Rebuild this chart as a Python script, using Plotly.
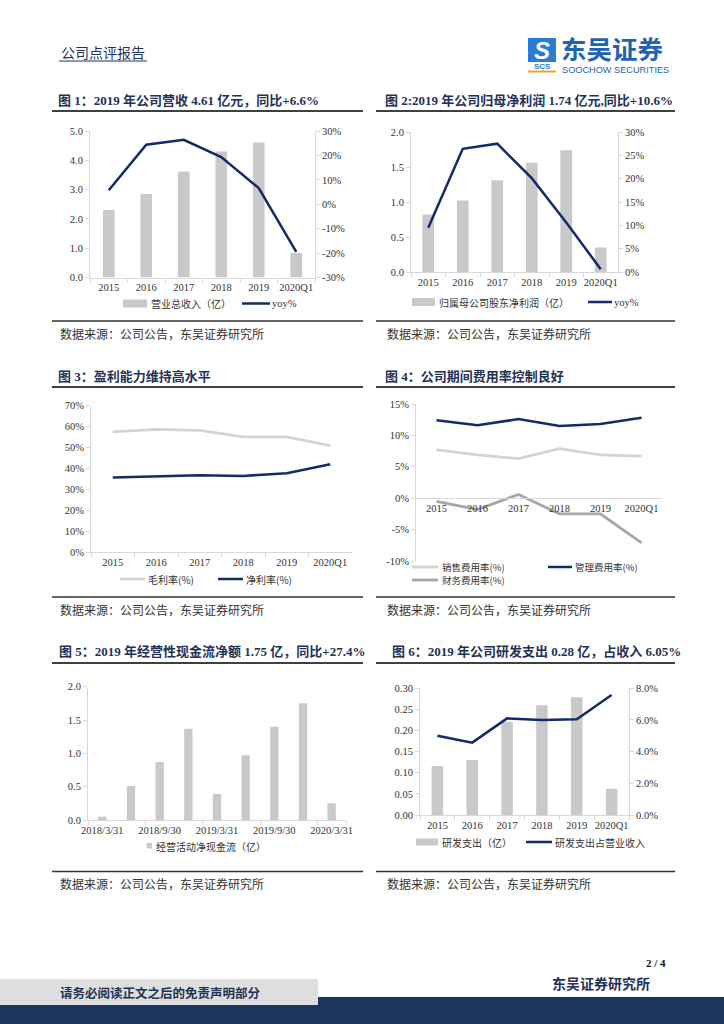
import plotly.graph_objects as go

W, H = 724, 1024

# ---------------- data ----------------
years = ["2015", "2016", "2017", "2018", "2019", "2020Q1"]
revenue = [2.30, 2.85, 3.62, 4.30, 4.61, 0.84]            # 营业总收入(亿)
revenue_yoy = [5.7, 24.4, 26.4, 19.3, 6.6, -19.5]         # %
net_profit = [0.82, 1.02, 1.31, 1.56, 1.74, 0.35]         # 归母净利润(亿)
net_profit_yoy = [9.5, 26.4, 27.5, 20.1, 10.6, 0.6]       # %
gross_margin = [57.5, 58.7, 58.2, 55.1, 55.1, 50.9]       # 毛利率 %
net_margin = [35.6, 36.2, 36.7, 36.4, 37.7, 42.0]         # 净利率 %
sales_rate = [7.7, 6.9, 6.3, 7.9, 6.9, 6.7]               # 销售费用率 %
admin_rate = [12.4, 11.6, 12.6, 11.5, 11.8, 12.8]         # 管理费用率 %
finance_rate = [-0.5, -1.8, 0.6, -2.5, -2.5, -7.1]        # 财务费用率 %
cf_dates = ["2018/3/31", "2018/6/30", "2018/9/30", "2018/12/31", "2019/3/31",
            "2019/6/30", "2019/9/30", "2019/12/31", "2020/3/31"]
op_cashflow = [0.05, 0.51, 0.87, 1.37, 0.39, 0.97, 1.40, 1.75, 0.25]
rd_spend = [0.116, 0.130, 0.221, 0.260, 0.279, 0.062]     # 研发支出(亿)
rd_ratio = [5.01, 4.57, 6.10, 6.00, 6.05, 7.58]           # 研发支出占营业收入 %

yoy1_ticks = [-30, -20, -10, 0, 10, 20, 30]
yoy1_text = ["-30%", "-20%", "-10%", "0%", "10%", "20%", "30%"]
exp_ticks = [-10, -5, 0, 5, 10, 15]
exp_text = ["-10%", "-5%", "0%", "5%", "10%", "15%"]

# ---------------- style ----------------
NAVY = "#15296b"
BAR = "#c9c9c9"
LIGHT = "#d3d3d3"
MID = "#a6a6a6"
AXC = "#d9d9d9"
TITLE_C = "#1f3257"
SERIF = "Liberation Serif, 'Times New Roman', 'Noto Sans CJK SC', serif"
CJK = "'Noto Sans CJK SC', sans-serif"
TF = dict(family=SERIF, size=10.5, color="#333333")


def fx(x):
    return x / W


def fy(y):
    return 1 - y / H


def xax(x0, x1, anchor, n, **kw):
    d = dict(domain=[fx(x0), fx(x1)], anchor=anchor, type="category",
             range=[-0.5, n - 0.5], showline=True, linecolor=AXC, linewidth=1,
             ticks="outside", tickson="boundaries", ticklen=4, tickcolor=AXC,
             tickfont=TF, tickangle=0, showgrid=False, zeroline=False, fixedrange=True)
    d.update(kw)
    return d


def yax(top, bot, anchor, rng, dtick, **kw):
    d = dict(domain=[fy(bot), fy(top)], anchor=anchor, range=rng, dtick=dtick,
             tick0=rng[0], showline=True, linecolor=AXC, linewidth=1,
             ticks="outside", ticklen=4, tickcolor=AXC, tickfont=TF,
             showgrid=False, zeroline=False, fixedrange=True)
    d.update(kw)
    return d


fig = go.Figure()

# Chart 1
fig.add_trace(go.Bar(x=years, y=revenue, width=0.31, marker=dict(color=BAR, line=dict(width=0)),
                     xaxis="x", yaxis="y", showlegend=False))
fig.add_trace(go.Scatter(x=years, y=revenue_yoy, mode="lines", line=dict(color=NAVY, width=2.5),
                         xaxis="x", yaxis="y2", showlegend=False))
# Chart 2
fig.add_trace(go.Bar(x=years, y=net_profit, width=0.34, marker=dict(color=BAR, line=dict(width=0)),
                     xaxis="x2", yaxis="y3", showlegend=False))
fig.add_trace(go.Scatter(x=years, y=net_profit_yoy, mode="lines", line=dict(color=NAVY, width=2.5),
                         xaxis="x2", yaxis="y4", showlegend=False))
# Chart 3
fig.add_trace(go.Scatter(x=years, y=gross_margin, mode="lines", line=dict(color=LIGHT, width=2.8),
                         xaxis="x3", yaxis="y5", showlegend=False))
fig.add_trace(go.Scatter(x=years, y=net_margin, mode="lines", line=dict(color=NAVY, width=2.5),
                         xaxis="x3", yaxis="y5", showlegend=False))
# Chart 4
fig.add_trace(go.Scatter(x=years, y=sales_rate, mode="lines", line=dict(color=LIGHT, width=2.8),
                         xaxis="x4", yaxis="y6", showlegend=False))
fig.add_trace(go.Scatter(x=years, y=admin_rate, mode="lines", line=dict(color=NAVY, width=2.5),
                         xaxis="x4", yaxis="y6", showlegend=False))
fig.add_trace(go.Scatter(x=years, y=finance_rate, mode="lines", line=dict(color=MID, width=2.8),
                         xaxis="x4", yaxis="y6", showlegend=False))
# Chart 5
fig.add_trace(go.Bar(x=cf_dates, y=op_cashflow, width=0.29, marker=dict(color=BAR, line=dict(width=0)),
                     xaxis="x5", yaxis="y7", showlegend=False))
# Chart 6
fig.add_trace(go.Bar(x=years, y=rd_spend, width=0.33, marker=dict(color=BAR, line=dict(width=0)),
                     xaxis="x6", yaxis="y8", showlegend=False))
fig.add_trace(go.Scatter(x=years, y=rd_ratio, mode="lines", line=dict(color=NAVY, width=2.5),
                         xaxis="x6", yaxis="y9", showlegend=False))

# chart 4 x-axis sits on the zero line
c4_top, c4_bot, c4_rng = 404, 561, [-10, 15]
c4_zero_px = c4_top + (c4_rng[1] - 0) / (c4_rng[1] - c4_rng[0]) * (c4_bot - c4_top)

fig.update_layout(
    width=W, height=H, margin=dict(l=0, r=0, t=0, b=0, pad=0, autoexpand=False), autosize=False,
    paper_bgcolor="white", plot_bgcolor="white", showlegend=False,
    font=dict(family=CJK, color="#333333"),
    xaxis=xax(90, 315, "y", 6),
    yaxis=yax(131, 277.5, "x", [0, 5], 1, tickformat=".1f"),
    yaxis2=yax(131, 277.5, "x", [-30, 30], 10, overlaying="y", side="right",
               tickvals=yoy1_ticks, ticktext=yoy1_text),
    xaxis2=xax(411, 618, "y3", 6),
    yaxis3=yax(132, 272, "x2", [0, 2], 0.5, tickformat=".1f"),
    yaxis4=yax(132, 272, "x2", [0, 30], 5, overlaying="y3", side="right", ticksuffix="%"),
    xaxis3=xax(91, 352, "y5", 6),
    yaxis5=yax(405.7, 552, "x3", [0, 70], 10, ticksuffix="%"),
    xaxis4=xax(416, 662, "free", 6, position=fy(c4_zero_px), ticks=""),
    yaxis6=yax(c4_top, c4_bot, "x4", c4_rng, 5, tickvals=exp_ticks, ticktext=exp_text),
    xaxis5=xax(88, 346, "y7", 9, tickvals=cf_dates[::2], ticktext=cf_dates[::2]),
    yaxis7=yax(686.7, 820, "x5", [0, 2], 0.5, tickformat=".1f"),
    xaxis6=xax(420, 629, "y8", 6),
    yaxis8=yax(688.3, 815, "x6", [0, 0.30], 0.05, tickformat=".2f"),
    yaxis9=yax(688.3, 815, "x6", [0, 8], 2, overlaying="y8", side="right",
               tickformat=".1f", ticksuffix="%"),
)

shapes = []
annots = []


def text(x, y, s, size=10.5, color="#333333", family=CJK, xanchor="left", bold=False):
    annots.append(dict(x=fx(x), y=fy(y), xref="paper", yref="paper", showarrow=False,
                       text=("<b>%s</b>" % s) if bold else s, xanchor=xanchor, yanchor="middle",
                       font=dict(family=family, size=size, color=color)))


def hline(x0, x1, y, color, width):
    shapes.append(dict(type="line", xref="paper", yref="paper", x0=fx(x0), x1=fx(x1),
                       y0=fy(y), y1=fy(y), line=dict(color=color, width=width)))


def rect(x0, x1, y0, y1, color):
    shapes.append(dict(type="rect", xref="paper", yref="paper", x0=fx(x0), x1=fx(x1),
                       y0=fy(y1), y1=fy(y0), fillcolor=color, line=dict(width=0), layer="below"))


# ---------------- header ----------------
text(59, 52, "公司点评报告", size=14, color=TITLE_C)
hline(59, 147, 61, TITLE_C, 1)
rect(528, 556, 38, 62, "#2b7bd3")
text(542, 50, "<i>S</i>", size=24, color="white", family="Liberation Sans, sans-serif",
     xanchor="center", bold=True)
text(542, 66.5, "SCS", size=8, color="#2b7bd3", family="Liberation Sans, sans-serif",
     xanchor="center", bold=True)
hline(528, 556, 71.5, "#f0a030", 2)
text(559, 47.5, "东吴证券", size=25.5, color="#1f63b5", bold=True)
text(560, 70, "SOOCHOW SECURITIES", size=9.2, color="#1f63b5", family="Liberation Sans, sans-serif")

# ---------------- titles ----------------
titles = [
    (56, 100.5, "图 1：2019 年公司营收 4.61 亿元，同比+6.6%"),
    (383, 100.5, "图 2:2019 年公司归母净利润 1.74 亿元,同比+10.6%"),
    (56, 376, "图 3：盈利能力维持高水平"),
    (383, 376, "图 4：公司期间费用率控制良好"),
    (57, 651.5, "图 5：2019 年经营性现金流净额 1.75 亿，同比+27.4%"),
    (390, 651.5, "图 6：2019 年公司研发支出 0.28 亿，占收入 6.05%"),
]
for x, y, s in titles:
    text(x, y, s, size=13, color=TITLE_C, family=SERIF, bold=True)

for y in (111, 387, 663):
    hline(52, 363, y, "#404040", 2)
    hline(376, 675, y, "#404040", 2)
for y in (321, 597, 871.5):
    hline(52, 363, y, "#333333", 1.5)
    hline(376, 675, y, "#333333", 1.5)
    text(58, y + 12, "数据来源：公司公告，东吴证券研究所", size=12, color="#333333")
    text(385, y + 12, "数据来源：公司公告，东吴证券研究所", size=12, color="#333333")

# ---------------- legends ----------------
LF = 10
# chart 1
rect(123, 147, 299.5, 307.5, BAR)
text(149, 303.5, "营业总收入（亿）", size=LF)
hline(242, 270, 303.5, NAVY, 2.5)
text(270, 303.5, "yoy%", size=10.5, family=SERIF)
# chart 2
rect(412, 435, 298, 306, BAR)
text(437, 302, "归属母公司股东净利润（亿）", size=LF)
hline(588, 612, 302, NAVY, 2.5)
text(612, 302, "yoy%", size=10.5, family=SERIF)
# chart 3
hline(120, 145, 579, LIGHT, 2.8)
text(146, 579, "毛利率(%)", size=LF)
hline(218, 243, 579, NAVY, 2.5)
text(243.5, 579, "净利率(%)", size=LF)
# chart 4
hline(412, 438, 567, LIGHT, 2.8)
text(440, 567, "销售费用率(%)", size=9.5)
hline(548, 572, 567, NAVY, 2.5)
text(573, 567, "管理费用率(%)", size=9.5)
hline(412, 438, 580, MID, 2.8)
text(440, 580, "财务费用率(%)", size=9.5)
# chart 5
rect(146.5, 152, 843, 848.5, BAR)
text(153.5, 846, "经营活动净现金流（亿）", size=LF)
# chart 6
rect(416, 438, 838.5, 845.5, BAR)
text(440, 842, "研发支出（亿）", size=LF)
hline(526, 552, 842, NAVY, 2.5)
text(553, 842, "研发支出占营业收入", size=LF)

# ---------------- footer ----------------
text(668, 963, "2 / 4", size=11, color="#111111", family=SERIF, xanchor="right", bold=True)
text(652, 983, "东吴证券研究所", size=14, color=TITLE_C, xanchor="right", bold=True)
rect(0, 318, 979, 1005, "#dedede")
text(160, 992.5, "请务必阅读正文之后的免责声明部分", size=12.5, color=TITLE_C, xanchor="center", bold=True)
rect(318, 724, 997, 1024, "#1b365d")
rect(0, 318, 1005, 1024, "#1b365d")

fig.update_layout(shapes=shapes, annotations=annots)

fig.write_html(
    "out.html", config={"displayModeBar": False},
    post_script=("document.documentElement.style.margin='0';"
                 "document.documentElement.style.overflow='hidden';"
                 "document.body.style.margin='0';"
                 "document.body.style.overflow='hidden';"
                 "var d=document.getElementById('{plot_id}');"
                 "d.style.position='absolute';d.style.left='0px';d.style.top='0px';"))
